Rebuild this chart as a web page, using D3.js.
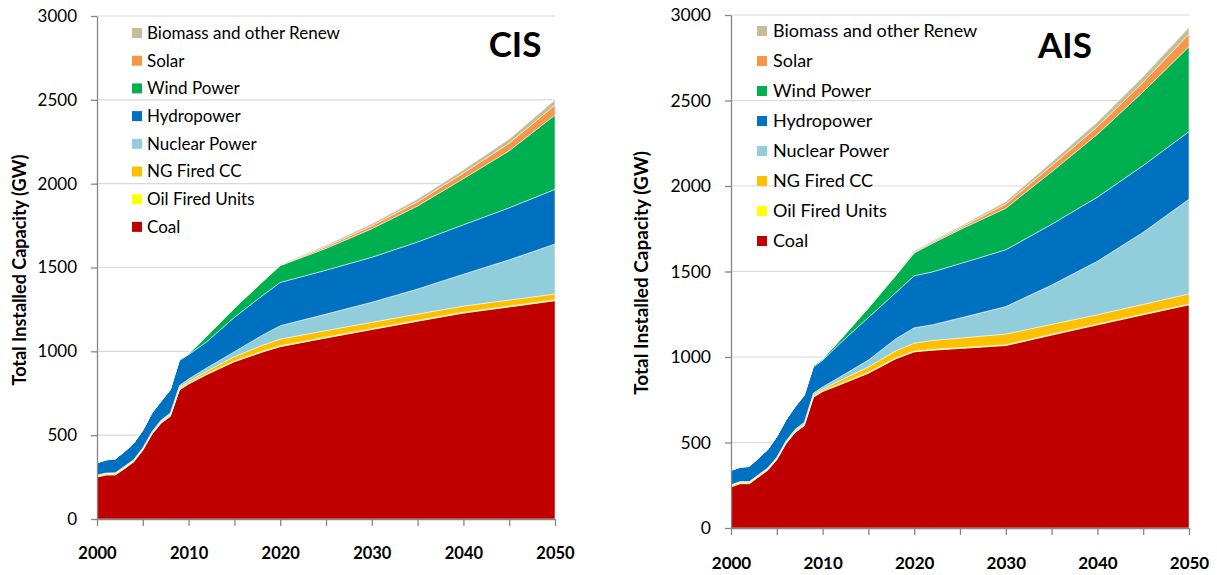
<!DOCTYPE html>
<html>
<head>
<meta charset="utf-8">
<script src="https://cdn.jsdelivr.net/npm/d3@7"></script>
<style>
  body { margin: 0; background: #fff; }
  svg { display: block; font-family: Lato, "Open Sans", sans-serif; }
</style>
</head>
<body>
<svg></svg>
<script>
// capacity by source, GW

let seriesNames = ['Coal', 'Oil Fired Units', 'NG Fired CC', 'Nuclear Power',
  'Hydropower', 'Wind Power', 'Solar', 'Biomass and other Renew'];
let legendNames = ['Biomass and other Renew', 'Solar', 'Wind Power', 'Hydropower',
  'Nuclear Power', 'NG Fired CC', 'Oil Fired Units', 'Coal'];
let yTicks = [0, 500, 1000, 1500, 2000, 2500, 3000];
let xTicks = [2000, 2005, 2010, 2015, 2020, 2025, 2030, 2035, 2040, 2045, 2050];

let cisYears = [2000, 2001, 2002, 2003, 2004, 2005, 2006, 2007, 2008, 2009, 2010,
  2012, 2015, 2018, 2020, 2025, 2030, 2035, 2040, 2045, 2050];
let cisCoal = [250, 262, 263, 300, 340, 410, 505, 572, 612, 770, 805, 862, 938, 995, 1028, 1080, 1130, 1180, 1228, 1265, 1302];
let cisOil = [8, 8, 8, 7, 7, 6, 6, 6, 5, 5, 5, 5, 5, 5, 5, 5, 5, 5, 5, 5, 5];
let cisNG = [3, 3, 3, 4, 4, 5, 5, 6, 7, 9, 10, 15, 25, 35, 40, 39, 38, 37, 37, 36, 35];
let cisNuclear = [2, 2, 2, 3, 3, 4, 5, 6, 8, 12, 15, 20, 30, 60, 80, 98, 120, 150, 190, 240, 298];
let cisHydro = [73, 78, 83, 88, 98, 105, 112, 112, 138, 150, 145, 156, 205, 235, 258, 262, 268, 280, 295, 310, 326];
let cisWind = [0, 0, 0, 0, 0, 0, 0, 2, 3, 5, 6, 33, 54, 81, 100, 130, 170, 215, 275, 340, 443];
let cisSolar = [0, 0, 0, 0, 0, 0, 0, 0, 0, 0, 0, 1, 2, 3, 4, 10, 18, 25, 33, 45, 60];
let cisBiomass = [1, 1, 1, 1, 1, 1, 1, 1, 1, 1, 2, 2, 3, 3, 3, 8, 12, 16, 20, 25, 31];

let aisYears = [2000, 2001, 2002, 2003, 2004, 2005, 2006, 2007, 2008, 2009, 2010,
  2012, 2015, 2018, 2020, 2022, 2025, 2030, 2035, 2040, 2045, 2050];
let aisCoal = [240, 259, 259, 298, 337, 399, 493, 559, 598, 765, 798, 840, 905, 990, 1030, 1040, 1050, 1067, 1128, 1188, 1247, 1305];
let aisOil = [8, 8, 8, 7, 7, 6, 6, 6, 5, 5, 5, 5, 5, 5, 5, 5, 5, 5, 5, 5, 5, 5];
let aisNG = [3, 3, 3, 4, 4, 5, 5, 6, 7, 9, 10, 20, 32, 42, 46, 52, 56, 62, 58, 54, 56, 59];
let aisNuclear = [2, 2, 2, 3, 3, 4, 5, 6, 8, 10, 12, 22, 40, 70, 90, 92, 117, 161, 230, 313, 422, 554];
let aisHydro = [84, 84, 88, 97, 107, 121, 123, 131, 157, 154, 155, 198, 249, 270, 304, 309, 318, 332, 355, 375, 390, 395];
let aisWind = [0, 0, 0, 0, 0, 0, 1, 3, 4, 6, 8, 20, 55, 100, 133, 167, 199, 243, 307, 367, 431, 497];
let aisSolar = [0, 0, 0, 0, 0, 0, 0, 0, 0, 0, 0, 1, 3, 4, 6, 8, 10, 25, 35, 45, 56, 74];
let aisBiomass = [1, 1, 1, 1, 1, 1, 1, 1, 1, 1, 1, 2, 3, 4, 6, 7, 8, 14, 22, 28, 33, 39];

let colors = {
  'Coal': '#C00000',
  'Oil Fired Units': '#FFFF00',
  'NG Fired CC': '#FFC000',
  'Nuclear Power': '#92CDDC',
  'Hydropower': '#0070C0',
  'Wind Power': '#00B050',
  'Solar': '#F79646',
  'Biomass and other Renew': '#C4BD97'
};

let width = 1217;
let height = 575;

let svg = d3.select('svg')
  .attr('width', width)
  .attr('height', height);

let buildRows = (years, cols) => years.map((year, i) => {
  let row = { year: year };
  seriesNames.forEach((name, k) => { row[name] = cols[k][i]; });
  return row;
});

let drawChart = (cfg) => {
  let rows = buildRows(cfg.years, cfg.cols);

  let xScale = d3.scaleLinear()
    .domain([2000, 2050])
    .range([cfg.left, cfg.right]);

  let yScale = d3.scaleLinear()
    .domain([0, 3000])
    .range([cfg.bottom, cfg.top]);

  let g = svg.append('g');

  // gridlines
  g.append('g')
    .selectAll('line')
    .data(yTicks.filter(t => t > 0))
    .enter()
    .append('line')
    .attr('x1', cfg.left)
    .attr('x2', cfg.right)
    .attr('y1', d => yScale(d))
    .attr('y2', d => yScale(d))
    .attr('stroke', '#d9d9d9')
    .attr('stroke-width', 1.2);

  let stacked = d3.stack().keys(seriesNames)(rows);

  let area = d3.area()
    .x(d => xScale(d.data.year))
    .y0(d => yScale(d[0]))
    .y1(d => yScale(d[1]));

  g.append('g')
    .selectAll('path')
    .data(stacked)
    .enter()
    .append('path')
    .attr('d', area)
    .attr('fill', d => colors[d.key])
    .attr('stroke', '#fff')
    .attr('stroke-width', 0.5);

  // axes
  let yAxis = d3.axisLeft(yScale)
    .tickValues(yTicks)
    .tickSize(6)
    .tickSizeOuter(0)
    .tickPadding(14)
    .tickFormat(d3.format('d'));

  let xAxis = d3.axisBottom(xScale)
    .tickValues(xTicks)
    .tickSize(7)
    .tickSizeOuter(0)
    .tickPadding(cfg.xPad)
    .tickFormat(d => d % 10 === 0 ? d : '');

  let ya = g.append('g')
    .attr('transform', 'translate(' + cfg.left + ',0)')
    .call(yAxis);
  ya.selectAll('text')
    .attr('font-size', cfg.tickFont)
    .attr('font-family', 'Lato, sans-serif')
    .attr('fill', '#000');

  let xa = g.append('g')
    .attr('transform', 'translate(0,' + cfg.bottom + ')')
    .call(xAxis);
  xa.selectAll('text')
    .attr('font-size', cfg.tickFont - 0.5)
    .attr('font-weight', 'bold')
    .attr('font-family', 'Lato, sans-serif')
    .attr('fill', '#000');

  svg.selectAll('.domain, .tick line')
    .attr('stroke', '#868686')
    .attr('stroke-width', 1.3);

  // y title
  g.append('text')
    .attr('transform', 'translate(' + cfg.titleX + ',' + cfg.titleY + ') rotate(-90)')
    .attr('text-anchor', 'middle')
    .attr('font-size', cfg.titleFont)
    .attr('font-weight', 'bold')
    .text('Total Installed Capacity (GW)');

  // legend
  let leg = g.append('g')
    .selectAll('g')
    .data(legendNames)
    .enter()
    .append('g')
    .attr('transform', (d, i) => 'translate(' + cfg.legX + ',' + (cfg.legY + i * cfg.legStep) + ')');

  leg.append('rect')
    .attr('x', 0)
    .attr('y', -5)
    .attr('width', 10)
    .attr('height', 10)
    .attr('fill', d => colors[d]);

  leg.append('text')
    .attr('x', cfg.legText)
    .attr('dy', '0.35em')
    .attr('font-size', cfg.legFont)
    .text(d => d);

  // region name
  g.append('text')
    .attr('x', cfg.nameX)
    .attr('y', cfg.nameY)
    .attr('text-anchor', 'middle')
    .attr('font-size', 35)
    .attr('font-weight', 'bold')
    .text(cfg.name);
};

drawChart({
  name: 'CIS', nameX: 515, nameY: 57,
  years: cisYears,
  cols: [cisCoal, cisOil, cisNG, cisNuclear, cisHydro, cisWind, cisSolar, cisBiomass],
  left: 97, right: 555, top: 16, bottom: 519,
  xPad: 21, tickFont: 17,
  titleX: 26, titleY: 270, titleFont: 18,
  legX: 132, legY: 33, legStep: 27.7, legText: 15, legFont: 17
});

drawChart({
  name: 'AIS', nameX: 1065, nameY: 58,
  years: aisYears,
  cols: [aisCoal, aisOil, aisNG, aisNuclear, aisHydro, aisWind, aisSolar, aisBiomass],
  left: 731, right: 1189, top: 15, bottom: 528,
  xPad: 22, tickFont: 17.5,
  titleX: 648, titleY: 273, titleFont: 19,
  legX: 757, legY: 31, legStep: 30, legText: 16, legFont: 18
});
</script>
</body>
</html>
